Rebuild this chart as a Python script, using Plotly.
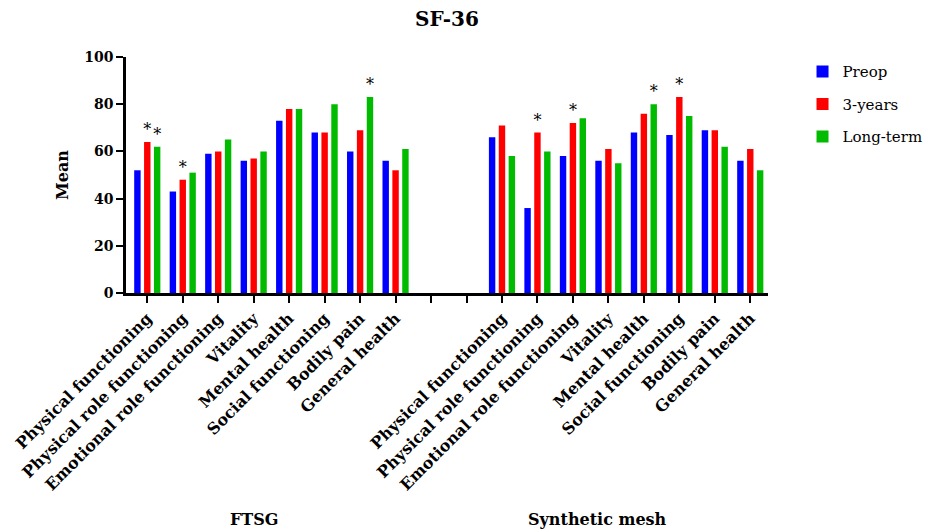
import plotly.graph_objects as go

categories = ["Physical functioning", "Physical role functioning", "Emotional role functioning",
              "Vitality", "Mental health", "Social functioning", "Bodily pain", "General health"]
groups = ["FTSG", "Synthetic mesh"]
series = ["Preop", "3-years", "Long-term"]
colors = ["#0000ff", "#ff0000", "#00bb00"]

ftsg = {
    "Preop":     [52, 43, 59, 56, 73, 68, 60, 56],
    "3-years":   [64, 48, 60, 57, 78, 68, 69, 52],
    "Long-term": [62, 51, 65, 60, 78, 80, 83, 61],
}
mesh = {
    "Preop":     [66, 36, 58, 56, 68, 67, 69, 56],
    "3-years":   [71, 68, 72, 61, 76, 83, 69, 61],
    "Long-term": [58, 60, 74, 55, 80, 75, 62, 52],
}
# significance markers (1 = "*")
ftsg_sig = {
    "Preop":     [0, 0, 0, 0, 0, 0, 0, 0],
    "3-years":   [1, 1, 0, 0, 0, 0, 0, 0],
    "Long-term": [1, 0, 0, 0, 0, 0, 1, 0],
}
mesh_sig = {
    "Preop":     [0, 0, 0, 0, 0, 0, 0, 0],
    "3-years":   [0, 1, 1, 0, 0, 1, 0, 0],
    "Long-term": [0, 0, 0, 0, 1, 0, 0, 0],
}

n = len(categories)
gap = 2
x_ftsg = list(range(n))
x_mesh = [n + gap + i for i in range(n)]
all_x = list(range(2 * n + gap))
ticktext = categories + [""] * gap + categories

FONT = "DejaVu Serif"

fig = go.Figure()
for s, c in zip(series, colors):
    xs = x_ftsg + x_mesh
    ys = ftsg[s] + mesh[s]
    sig = ftsg_sig[s] + mesh_sig[s]
    fig.add_trace(go.Bar(
        x=xs, y=ys, name=s, marker=dict(color=c, line=dict(width=0)),
        text=["*" if v else "" for v in sig], textposition="outside",
        constraintext="none", cliponaxis=False,
        textfont=dict(family=FONT, size=16, color="black"),
        legendgroup=s,
    ))

fig.update_layout(
    width=931, height=532,
    margin=dict(l=122, r=163, t=57, b=239),
    paper_bgcolor="white", plot_bgcolor="white",
    barmode="group", bargap=0.165, bargroupgap=0.35,
    title=dict(text="SF-36", x=0.5, xref="paper", xanchor="center", y=1 - 19 / 532, yanchor="middle",
               font=dict(family=FONT, size=20, color="black", weight="bold")),
    font=dict(family=FONT, color="black"),
    legend=dict(xref="container", yref="container", x=0.862, y=0.896, xanchor="left", yanchor="top",
                tracegroupgap=10, font=dict(family=FONT, size=15, color="black")),
    showlegend=True,
)
fig.update_xaxes(
    range=[-0.6, 2 * n + gap - 0.5],
    tickmode="array", tickvals=all_x, ticktext=ticktext, tickangle=-45,
    tickfont=dict(family=FONT, size=16, color="black", weight="bold"),
    showline=True, linecolor="black", linewidth=2.5,
    ticks="outside", ticklen=7, tickwidth=2, tickcolor="black",
    showgrid=False, zeroline=False,
)
fig.update_yaxes(
    range=[0, 100], tickvals=[0, 20, 40, 60, 80, 100],
    tickfont=dict(family=FONT, size=14, color="black", weight="bold"),
    showline=True, linecolor="black", linewidth=2.5,
    ticks="outside", ticklen=7, tickwidth=2, tickcolor="black",
    showgrid=False, zeroline=False,
    title=dict(text="Mean", standoff=12, font=dict(family=FONT, size=16, color="black", weight="bold")),
)
fig.add_annotation(text="FTSG", xref="x", yref="paper", x=3.0, y=-1.01, showarrow=False,
                   font=dict(family=FONT, size=16, color="black", weight="bold"))
fig.add_annotation(text="Synthetic mesh", xref="x", yref="paper", x=12.7, y=-1.01, showarrow=False,
                   font=dict(family=FONT, size=16, color="black", weight="bold"))

fig.write_html("out.html")
